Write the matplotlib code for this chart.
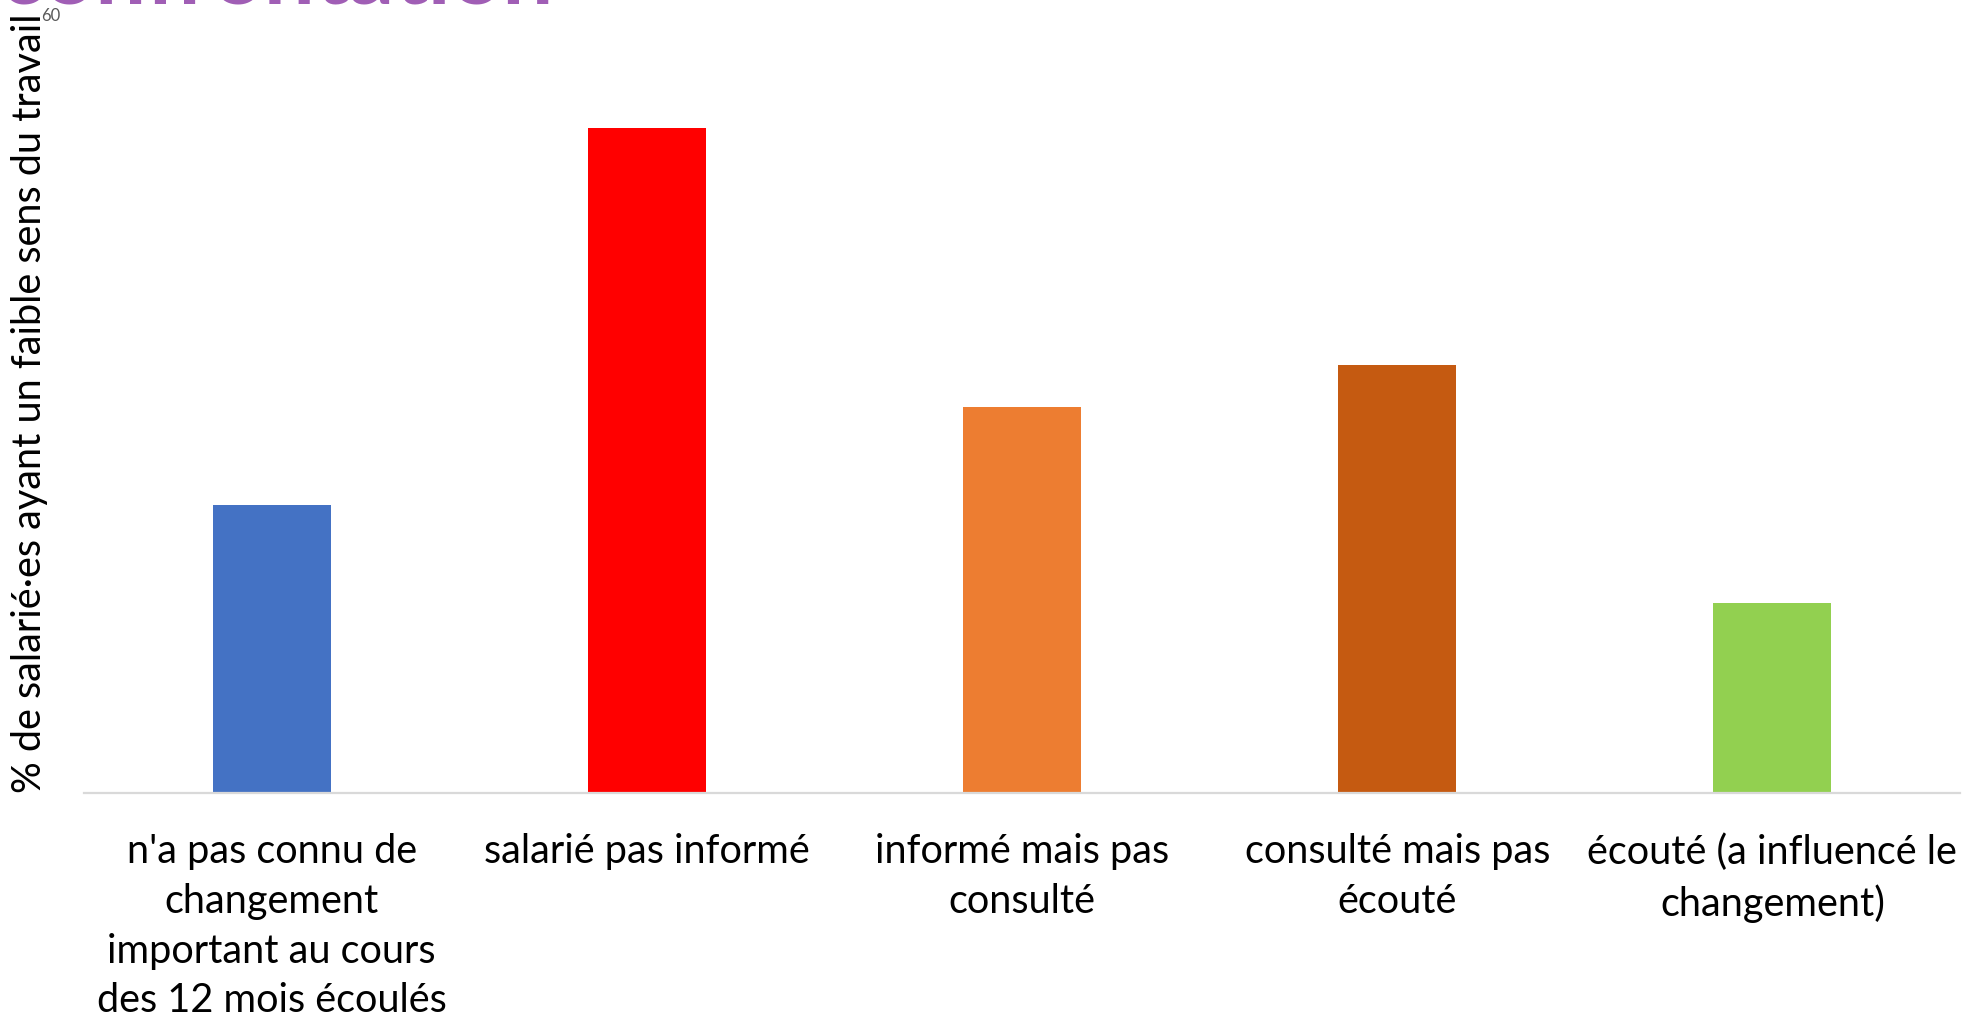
import matplotlib.pyplot as plt

categories = [
    "n'a pas connu de\nchangement\nimportant au cours\ndes 12 mois écoulés",
    "salarié pas informé",
    "informé mais pas\nconsulté",
    "consulté mais pas\nécouté",
    "écouté (a influencé le\nchangement)",
]
values = [22.2, 51.2, 29.7, 33.0, 14.6]
colors = ["#4472C4", "#FF0000", "#ED7D31", "#C55A11", "#92D050"]

plt.rcParams['font.family'] = ['Lato', 'DejaVu Sans']

fig = plt.figure(figsize=(19.77, 10.23), dpi=100)
ax = fig.add_axes([0.0425, 0.2248, 0.9489, 0.7615])

x = range(len(categories))
ax.bar(x, values, width=0.315, color=colors)

ax.set_xlim(-0.5, len(categories) - 0.5)
ax.set_ylim(0, 60)
ax.set_yticks([60])
ax.set_yticklabels(["60"], color="#595959", fontsize=12)
ax.tick_params(axis="y", length=0, pad=17)
ax.set_xticks(list(x))
ax.set_xticklabels(categories, fontsize=28.5, linespacing=1.42)
ax.tick_params(axis="x", length=0, pad=29)

for s in ["top", "right", "left"]:
    ax.spines[s].set_visible(False)
ax.spines["bottom"].set_color("#D9D9D9")
ax.spines["bottom"].set_linewidth(1.6)

ax.set_ylabel("% de salarié·es ayant un faible sens du travail", fontsize=28.5)
ax.yaxis.set_label_coords(-0.0192, 0.5)

# slide title cut off at the top of the image
fig.text(0.0, 1 - 3 / 1023, "confrontation", color="#A05EB5", fontsize=65,
         fontweight="bold", va="baseline", ha="left")

fig.savefig("out.png", dpi=100)
